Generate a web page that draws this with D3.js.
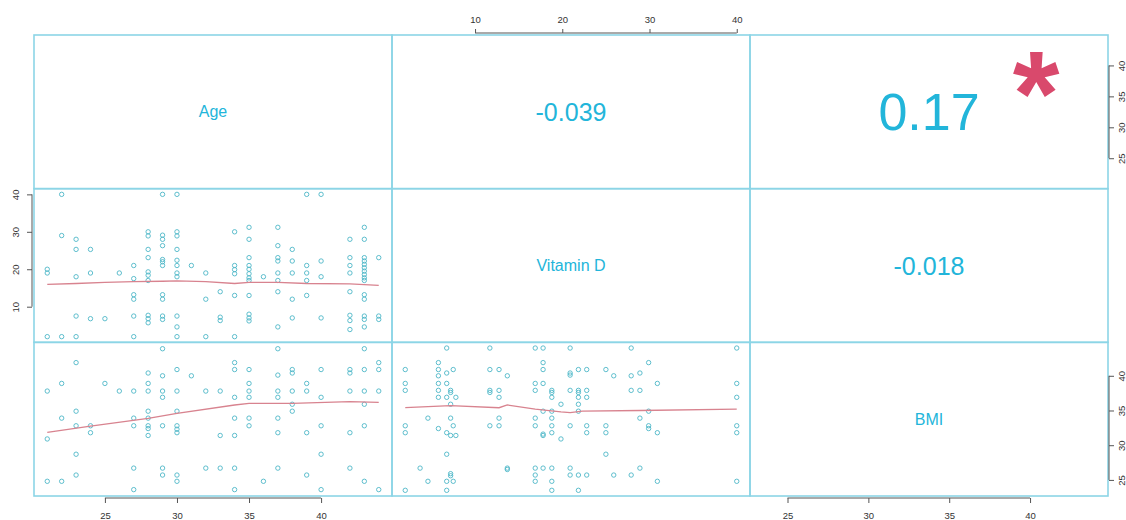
<!DOCTYPE html>
<html>
<head>
<meta charset="utf-8">
<script src="https://cdn.jsdelivr.net/npm/d3@7"></script>
<style>
  body { margin: 0; background: #fff; }
  svg { display: block; font-family: "Liberation Sans", Arial, sans-serif; }
</style>
</head>
<body>
<svg id="chart" width="1126" height="520"></svg>
<script>
// Variable names shown on the diagonal
const variables = ["Age", "Vitamin D", "BMI"];

// Tick labels for each variable's axis
const ageTicks = [25, 30, 35, 40];
const vitdTicks = [10, 20, 30, 40];
const bmiTicks = [25, 30, 35, 40];

// Pairwise correlations (upper panels)
const corrAgeVitd = "-0.039";
const corrAgeBmi = "0.17";
const corrVitdBmi = "-0.018";
const starAgeBmi = "*";

// Vitamin D observations grouped by age
const vitdByAge = [
  [21, [20, 19, 2]],
  [22, [40, 29, 2]],
  [23, [28, 25.3, 18, 7.5, 2]],
  [24, [25.3, 19, 6.8]],
  [25, [6.8]],
  [26, [19]],
  [27, [21, 17.5, 13.2, 12, 7.5, 2]],
  [28, [30, 28.9, 25.3, 23.1, 19.3, 18.4, 17, 7.7, 6.8, 5.7]],
  [29, [40, 29.1, 28, 26.3, 22.6, 22, 21, 13.2, 12, 7.5, 6.6]],
  [30, [40, 30, 28.9, 25.3, 22.4, 21, 19, 18, 7.5, 4.6, 2]],
  [31, [21]],
  [32, [19, 12, 2]],
  [33, [14, 7.2, 6.3]],
  [34, [30, 21, 19.9, 18.8, 13, 2]],
  [35, [31.2, 28, 23.1, 21, 20, 18.8, 17.7, 17, 13, 8, 7, 6.2]],
  [36, [18]],
  [37, [31.2, 26.3, 23.1, 22.2, 19, 17, 14, 4.6]],
  [38, [25.3, 22.2, 19, 12, 7]],
  [39, [40, 21, 19, 17, 13]],
  [40, [40, 22.2, 18, 7]],
  [42, [28, 23.1, 21, 19, 14, 7.7, 6.3, 3.9]],
  [43, [31.2, 28, 23.1, 22.2, 21.3, 20.4, 19.5, 18.6, 17.7, 17, 13.2, 12, 7.5, 6.6, 4.6]],
  [44, [23.1, 7.5, 6.6]]
];

// BMI observations grouped by age
const bmiByAge = [
  [21, [37.8, 30.9, 24.8]],
  [22, [38.9, 33.9, 24.8]],
  [23, [41.9, 34.9, 32.8, 28.7, 25.7]],
  [24, [32.8, 31.8]],
  [25, [38.9]],
  [26, [37.8]],
  [27, [37.8, 33.9, 32.8, 26.7, 23.6]],
  [28, [40.4, 38.9, 37.8, 34.9, 33.9, 32.8, 32.4, 31.4]],
  [29, [43.9, 40.0, 37.8, 36.9, 32.8, 26.7, 25.7]],
  [30, [40.9, 37.8, 34.9, 32.8, 32.3, 31.8, 25.7, 24.8]],
  [31, [40.0]],
  [32, [37.8, 26.7]],
  [33, [37.8, 31.4, 26.7]],
  [34, [41.9, 40.9, 36.9, 33.9, 31.4, 26.7, 23.6]],
  [35, [40.9, 38.9, 37.8, 36.9, 33.9, 32.8]],
  [36, [24.8]],
  [37, [43.9, 40.1, 37.8, 36.9, 33.9, 31.8, 26.7]],
  [38, [40.9, 40.4, 37.8, 35.9, 34.9]],
  [39, [38.9, 37.8, 31.8, 25.7]],
  [40, [40.9, 36.9, 32.8, 28.7, 23.6]],
  [42, [40.9, 40.4, 37.8, 31.8, 26.7]],
  [43, [43.9, 40.9, 37.8, 35.9, 32.8, 24.8]],
  [44, [41.9, 40.9, 37.8, 23.6]]
];

// BMI observations grouped by vitamin D level
const bmiByVitd = [
  [2.0, [40.9, 38.9, 37.9, 32.8, 31.8, 23.5]],
  [3.7, [26.7]],
  [4.6, [33.9, 24.8]],
  [5.8, [41.9, 40.9, 40.0, 38.9, 37.9, 36.9, 32.4]],
  [6.75, [44.0, 40.4, 38.9, 36.9, 31.8, 28.7, 24.8, 23.5]],
  [7.2, [37.9, 37.6, 35.9, 33.9, 31.4, 25.9, 25.6]],
  [7.5, [40.9, 32.8, 24.8]],
  [7.8, [36.9, 31.4]],
  [11.7, [44.0, 40.9, 37.9, 37.6, 32.8]],
  [12.75, [40.9, 37.9, 36.9, 33.9, 32.8]],
  [13.7, [40.0, 26.7, 26.5]],
  [16.9, [44.0, 38.9, 37.9, 33.9, 32.8, 26.7, 25.7, 24.8]],
  [17.8, [44.0, 41.9, 40.9, 38.9, 34.9, 31.6, 31.4, 26.7]],
  [18.8, [37.9, 37.6, 36.9, 34.9, 33.9, 32.8, 31.8, 26.7, 24.8, 23.5]],
  [19.85, [35.9, 30.9]],
  [20.9, [44.0, 40.4, 40.1, 37.9, 32.8, 26.7, 25.7]],
  [21.85, [40.9, 37.9, 37.6, 36.9, 35.9, 34.9, 25.7, 23.5]],
  [22.8, [40.9, 37.9, 36.9, 32.8, 31.8, 25.7]],
  [25.0, [40.9, 32.8, 31.8, 28.7]],
  [25.9, [40.0, 25.7]],
  [27.9, [44.0, 40.0, 37.9, 25.7]],
  [28.9, [40.4, 37.9, 33.9, 26.7]],
  [29.9, [41.9, 34.9, 32.8, 32.4]],
  [30.9, [38.9, 31.8, 24.8]],
  [40.0, [44.0, 38.9, 36.9, 32.8, 31.8, 24.8]]
];

// Smoothed trend lines
const vitdByAgeSmooth = [[21, 15.97], [23, 16.2], [25, 16.5], [27, 16.7], [29, 16.8], [30, 16.9],
  [32, 16.7], [34, 16.2], [35, 16.5], [37, 16.5], [39, 16.2], [42, 16.1], [44, 15.7]];
const bmiByAgeSmooth = [[21, 31.85], [24, 32.76], [28, 33.87], [30, 34.59], [34, 35.79],
  [35, 36.03], [38, 36.03], [42, 36.27], [44, 36.17]];
const bmiByVitdSmooth = [[2, 35.4], [7.2, 35.7], [12.75, 35.4], [13.7, 35.8], [16.9, 35.2],
  [19.85, 34.8], [20.9, 34.7], [22.3, 34.9], [28.9, 35.0], [40, 35.2]];

// ---- layout ----
const svg = d3.select("#chart");
const gridLeft = 34, gridTop = 35, cellW = 358, cellH = 153.67;
const panelColor = "#8cd5e6";
const labelColor = "#22b5da";
const pointColor = "#4db7c7";
const smoothColor = "#d8838f";
const axisColor = "#555";

function flatten(groups) {
  const out = [];
  groups.forEach(([k, vs]) => vs.forEach(v => out.push([k, v])));
  return out;
}
const ageVitdPts = flatten(vitdByAge);
const ageBmiPts = flatten(bmiByAge);
const vitdBmiPts = flatten(bmiByVitd);

// Padded ranges (4% either side)
function padded(values) {
  const [a, b] = d3.extent(values);
  const p = (b - a) * 0.04;
  return [a - p, b + p];
}
const ageDom = padded(ageVitdPts.map(d => d[0]).concat(ageBmiPts.map(d => d[0])));
const vitdDom = padded(ageVitdPts.map(d => d[1]).concat(vitdBmiPts.map(d => d[0])));
const bmiDom = padded(ageBmiPts.map(d => d[1]).concat(vitdBmiPts.map(d => d[1])));
const domains = [ageDom, vitdDom, bmiDom];

const xScale = i => d3.scaleLinear().domain(domains[i]).range([gridLeft + i * cellW, gridLeft + (i + 1) * cellW]);
const yScale = i => d3.scaleLinear().domain(domains[i]).range([gridTop + (i + 1) * cellH, gridTop + i * cellH]);

// ---- lower panels: scatter + smooth ----
function scatter(col, row, pts, smooth) {
  const x = xScale(col), y = yScale(row);
  const g = svg.append("g");
  g.selectAll("circle").data(pts).join("circle")
    .attr("cx", d => x(d[0])).attr("cy", d => y(d[1])).attr("r", 2.2)
    .attr("fill", "none").attr("stroke", pointColor).attr("stroke-width", 0.9);
  g.append("path").datum(smooth)
    .attr("d", d3.line().x(d => x(d[0])).y(d => y(d[1])))
    .attr("fill", "none").attr("stroke", smoothColor).attr("stroke-width", 1.3);
}
scatter(0, 1, ageVitdPts, vitdByAgeSmooth);
scatter(0, 2, ageBmiPts, bmiByAgeSmooth);
scatter(1, 2, vitdBmiPts, bmiByVitdSmooth);

// ---- diagonal labels ----
variables.forEach((name, i) => {
  svg.append("text")
    .attr("x", gridLeft + (i + 0.5) * cellW).attr("y", gridTop + (i + 0.5) * cellH)
    .attr("text-anchor", "middle").attr("dominant-baseline", "central")
    .attr("font-size", 16).attr("fill", labelColor).text(name);
});

// ---- upper panels: correlation values ----
function corrText(col, row, txt, size) {
  svg.append("text")
    .attr("x", gridLeft + (col + 0.5) * cellW).attr("y", gridTop + (row + 0.5) * cellH)
    .attr("text-anchor", "middle").attr("dominant-baseline", "central")
    .attr("font-size", size).attr("fill", labelColor).text(txt);
}
corrText(1, 0, corrAgeVitd, 25);
corrText(2, 0, corrAgeBmi, 52);
corrText(2, 1, corrVitdBmi, 25);
svg.append("text")
  .attr("x", gridLeft + 2 * cellW + 286).attr("y", gridTop + 100)
  .attr("text-anchor", "middle").attr("font-size", 120).attr("font-weight", "bold")
  .attr("fill", "#d9496c").text(starAgeBmi);

// ---- panel borders ----
for (let r = 0; r < 3; r++) {
  for (let c = 0; c < 3; c++) {
    svg.append("rect")
      .attr("x", gridLeft + c * cellW).attr("y", gridTop + r * cellH)
      .attr("width", cellW).attr("height", cellH)
      .attr("fill", "none").attr("stroke", panelColor).attr("stroke-width", 1.6);
  }
}

// ---- axes ----
function styleAxis(g, ticks, scale, horizontal) {
  g.select(".domain").remove();
  g.selectAll(".tick line").attr("stroke", axisColor);
  g.selectAll("text").attr("fill", "#333").attr("font-size", 9.5)
    .attr("font-family", "Liberation Sans, Arial, sans-serif");
  const a = scale(ticks[0]), b = scale(ticks[ticks.length - 1]);
  g.append("line")
    .attr(horizontal ? "x1" : "y1", a).attr(horizontal ? "x2" : "y2", b)
    .attr(horizontal ? "y1" : "x1", 0).attr(horizontal ? "y2" : "x2", 0)
    .attr("stroke", axisColor);
}

// bottom: Age (col 1) and BMI (col 3)
[[0, ageTicks], [2, bmiTicks]].forEach(([i, ticks]) => {
  const s = xScale(i);
  const g = svg.append("g").attr("transform", "translate(0,498)")
    .call(d3.axisBottom(s).tickValues(ticks).tickSize(5).tickPadding(9.5).tickFormat(d3.format("d")));
  styleAxis(g, ticks, s, true);
});

// top: Vitamin D (col 2)
{
  const s = xScale(1);
  const g = svg.append("g").attr("transform", "translate(0,33)")
    .call(d3.axisTop(s).tickValues(vitdTicks).tickSize(4).tickPadding(6).tickFormat(d3.format("d")));
  styleAxis(g, vitdTicks, s, true);
}

// left: Vitamin D (row 2), labels rotated
{
  const s = yScale(1);
  const g = svg.append("g").attr("transform", "translate(32,0)")
    .call(d3.axisLeft(s).tickValues(vitdTicks).tickSize(5).tickFormat(d3.format("d")));
  styleAxis(g, vitdTicks, s, false);
  g.selectAll(".tick text")
    .attr("x", null).attr("dy", null).attr("text-anchor", "middle")
    .attr("transform", "translate(-13.5,0) rotate(-90)");
}

// right: Age (row 1) and BMI (row 3), labels rotated
[[0, ageTicks], [2, bmiTicks]].forEach(([i, ticks]) => {
  const s = yScale(i);
  const g = svg.append("g").attr("transform", "translate(1109,0)")
    .call(d3.axisRight(s).tickValues(ticks).tickSize(5).tickFormat(d3.format("d")));
  styleAxis(g, ticks, s, false);
  g.selectAll(".tick text")
    .attr("x", null).attr("dy", null).attr("text-anchor", "middle")
    .attr("transform", "translate(15.5,0) rotate(-90)");
});
</script>
</body>
</html>
